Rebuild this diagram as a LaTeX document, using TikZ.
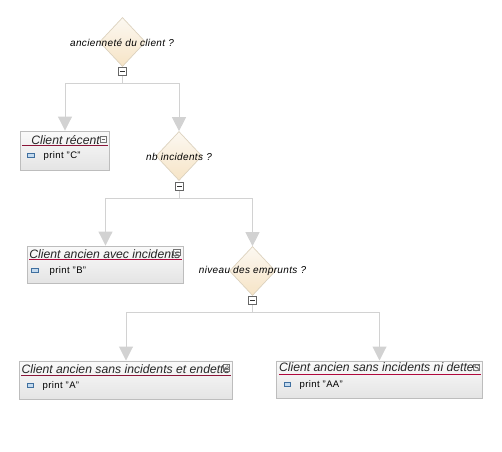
\documentclass[tikz,border=0pt]{standalone}
\usepackage{fontspec}
\setmainfont{Liberation Sans}
\usetikzlibrary{arrows.meta,shapes.geometric}
\definecolor{connc}{HTML}{D2D2D2}
\definecolor{boxedge}{HTML}{BDBDBD}
\definecolor{dedge}{HTML}{DCD2BE}
\definecolor{dtop}{HTML}{FCF8F1}
\definecolor{dbot}{HTML}{F6E4C6}
\definecolor{rulea}{HTML}{8A1538}
\definecolor{ruleb}{HTML}{B0083C}
\definecolor{bulletedge}{HTML}{3F6F9F}
\definecolor{bulletfill}{HTML}{C4DAEE}
\definecolor{boxa}{HTML}{FAFAFA}
\definecolor{boxb}{HTML}{E4E4E4}
\tikzset{
  x=1pt,y=-1pt,
  conn/.style={draw=connc,line width=1pt,-{Triangle[length=14pt,width=14pt,fill=connc]}},
  decision/.style={diamond,shape aspect=0.94,inner sep=0pt,minimum width=46pt,minimum height=49pt,draw=dedge,line width=0.7pt,top color=dtop,bottom color=dbot},
  dlabel/.style={font=\fontsize{10}{11}\selectfont\itshape\addfontfeatures{LetterSpace=3.6},inner sep=0pt,text=black},
  minusbox/.style={draw=black!60,fill=white,line width=0.8pt,minimum size=8pt,inner sep=0pt,rectangle},
  action/.style={rectangle,draw=boxedge,line width=0.9pt,inner sep=0pt,shade,top color=boxa,bottom color=boxb},
  atitle/.style={font=\itshape\fontsize{12.2}{13}\selectfont,inner sep=0pt,text=black!85},
  aprint/.style={font=\fontsize{9.5}{10}\selectfont\addfontfeatures{LetterSpace=4},inner sep=0pt,anchor=west,text=black},
  bullet/.style={rectangle,draw=bulletedge,fill=bulletfill,line width=0.8pt,minimum width=6.5pt,minimum height=4pt,inner sep=0pt},
  fold/.style={rectangle,draw=black!55,fill=white,fill opacity=0.3,line width=0.6pt,minimum size=6.5pt,inner sep=0pt},
}
\newcommand{\minusin}[1]{\draw[black!80,line width=0.8pt] ([xshift=-2.2pt]#1.center) -- ([xshift=2.2pt]#1.center);}
\newcommand{\foldminus}[1]{\draw[black!60,line width=0.5pt] ([xshift=-1.8pt]#1.center) -- ([xshift=1.8pt]#1.center);}
\begin{document}
\begin{tikzpicture}
\useasboundingbox (0,0) rectangle (502,451);
% action boxes
\node[action,minimum width=89pt,minimum height=39pt] (b1) at (65,150.5) {};
\node[action,minimum width=156.5pt,minimum height=37pt] (b2) at (105.5,264.5) {};
\node[action,minimum width=213pt,minimum height=38.5pt] (b3) at (126,380.2) {};
\node[action,minimum width=206pt,minimum height=37.5pt] (b4) at (379.5,379.7) {};
% decisions
\node[decision] (d1) at (122.5,42) {};
\node[decision] (d2) at (179,156) {};
\node[decision] (d3) at (252.5,271) {};
% minus boxes
\node[minusbox] (m1) at (122.5,71.5) {}; \minusin{m1}
\node[minusbox] (m2) at (179.5,186.5) {}; \minusin{m2}
\node[minusbox] (m3) at (252.5,300.5) {}; \minusin{m3}
% connectors
\draw[conn] (m1.south) -- ++(0,8) -| (b1.north);
\draw[conn] (m1.south) -- ++(0,8) -| (d2.north);
\draw[conn] (m2.south) -- ++(0,7.5) -| (b2.north);
\draw[conn] (m2.south) -- ++(0,7.5) -| (d3.north);
\draw[conn] (m3.south) -- ++(0,8) -| (b3.north);
\draw[conn] (m3.south) -- ++(0,8) -| (b4.north);
% decision labels
\node[dlabel] (t1) at (122,42.5) {ancienneté du client ?};
\node[dlabel] (t2) at (179,156.5) {nb incidents ?};
\node[dlabel] (t3) at (252.5,270.5) {niveau des emprunts ?};
% title rules
\draw[rulea,line width=0.9pt] (22,145.5) -- (108,145.5);
\draw[ruleb,line width=0.9pt] (29,259) -- (182,259);
\draw[rulea,line width=0.9pt] (21,375.3) -- (231,375.3);
\draw[ruleb,line width=0.9pt] (279,374.3) -- (481,374.3);
% titles
\node[atitle] (a1) at (65.5,140) {Client récent};
\node[atitle] (a2) at (105,254) {Client ancien avec incidents};
\node[atitle] (a3) at (126,369) {Client ancien sans incidents et endetté};
\node[atitle] (a4) at (379.5,367.5) {Client ancien sans incidents ni dettes};
% fold icons
\node[fold] (f1) at (103.5,139.5) {}; \foldminus{f1}
\node[fold] (f2) at (177,252.5) {}; \foldminus{f2}
\node[fold] (f3) at (226.5,368) {}; \foldminus{f3}
\node[fold] (f4) at (476.5,367.5) {}; \foldminus{f4}
% print rows
\node[bullet] (i1) at (31,155.5) {};
\node[aprint] (p1) at (43.5,156) {print "C"};
\node[bullet] (i2) at (35,270.5) {};
\node[aprint] (p2) at (49.5,271) {print "B"};
\node[bullet] (i3) at (30.5,385.5) {};
\node[aprint] (p3) at (42.5,386) {print "A"};
\node[bullet] (i4) at (287.5,384.5) {};
\node[aprint] (p4) at (299.5,385) {print "AA"};
\end{tikzpicture}
\end{document}
